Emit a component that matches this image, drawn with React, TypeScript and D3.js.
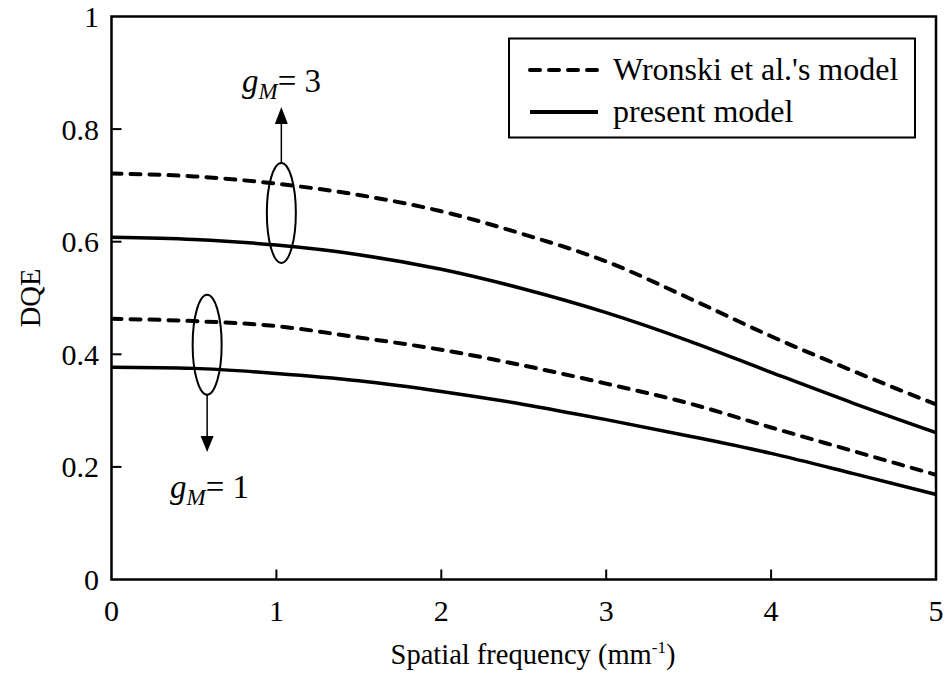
import React from 'react';
import * as d3 from 'd3';

// spatial frequency (mm^-1)
const freq = [0, 0.5, 1, 1.5, 2, 2.5, 3, 3.5, 4, 4.5, 5];

// DQE curves
const wronskiG3 = [0.721, 0.716, 0.703, 0.683, 0.654, 0.613, 0.565, 0.5, 0.432, 0.37, 0.311];
const presentG3 = [0.608, 0.604, 0.594, 0.577, 0.551, 0.516, 0.474, 0.424, 0.368, 0.313, 0.261];
const wronskiG1 = [0.463, 0.459, 0.45, 0.43, 0.408, 0.38, 0.348, 0.313, 0.27, 0.228, 0.186];
const presentG1 = [0.377, 0.375, 0.366, 0.353, 0.334, 0.311, 0.284, 0.255, 0.224, 0.188, 0.151];

const xTicks = [0, 1, 2, 3, 4, 5];
const yTicks = [0, 0.2, 0.4, 0.6, 0.8, 1];
const yTickLabels = ['0', '0.2', '0.4', '0.6', '0.8', '1'];

const legendItems = [
  { label: "Wronski et al.'s model", dashed: true },
  { label: 'present model', dashed: false },
];

const W = 945;
const H = 674;
const FONT = '"Liberation Serif", "Times New Roman", serif';
const DASH = '10,9';

export default function App() {
  const x = d3.scaleLinear().domain([0, 5]).range([111.5, 936]);
  const y = d3.scaleLinear().domain([0, 1]).range([579.5, 16.5]);

  const line = d3
    .line<number>()
    .x((_, i) => x(freq[i]))
    .y(d => y(d))
    .curve(d3.curveMonotoneX);

  const series = [
    { values: wronskiG3, dashed: true },
    { values: presentG3, dashed: false },
    { values: wronskiG1, dashed: true },
    { values: presentG1, dashed: false },
  ];

  // ellipse + arrow annotations (positioned in data space)
  const up = { cx: x(1.03), cy: y(0.651), rx: 14.5, ry: 50 };
  const down = { cx: x(0.58), cy: y(0.417), rx: 14.5, ry: 50 };

  return (
    <svg
      width={W}
      height={H}
      style={{ position: 'absolute', left: 0, top: 0, background: '#fff' }}
      fontFamily={FONT}
    >
      <defs>
        <clipPath id="plot">
          <rect x={x(0)} y={y(1)} width={x(5) - x(0)} height={y(0) - y(1)} />
        </clipPath>
      </defs>

      {/* curves */}
      <g clipPath="url(#plot)">
        {series.map((s, i) => (
          <path
            key={i}
            d={line(s.values) || ''}
            fill="none"
            stroke="#000"
            strokeWidth={s.dashed ? 4 : 3.5}
            strokeDasharray={s.dashed ? DASH : undefined}
            strokeLinecap={s.dashed ? 'round' : 'butt'}
          />
        ))}
      </g>

      {/* ticks (inside) */}
      {yTicks.slice(1, -1).map(t => (
        <line key={'yt' + t} x1={x(0)} x2={x(0) + 10} y1={y(t)} y2={y(t)} stroke="#000" strokeWidth={2} />
      ))}
      {xTicks.slice(1, -1).map(t => (
        <line key={'xt' + t} x1={x(t)} x2={x(t)} y1={y(0)} y2={y(0) - 10} stroke="#000" strokeWidth={2} />
      ))}

      {/* frame */}
      <rect
        x={x(0)}
        y={y(1)}
        width={x(5) - x(0)}
        height={y(0) - y(1)}
        fill="none"
        stroke="#000"
        strokeWidth={2.5}
      />

      {/* tick labels */}
      {yTicks.map((t, i) => (
        <text key={'yl' + t} x={99} y={y(t)} dy="0.35em" textAnchor="end" fontSize={30}>
          {yTickLabels[i]}
        </text>
      ))}
      {xTicks.map(t => (
        <text key={'xl' + t} x={x(t)} y={621} textAnchor="middle" fontSize={30}>
          {t}
        </text>
      ))}

      {/* axis titles */}
      <text x={533} y={664} textAnchor="middle" fontSize={28.5}>
        Spatial frequency (mm
        <tspan fontSize={17} dy={-11}>-1</tspan>
        <tspan dy={11}>)</tspan>
      </text>
      <text transform="translate(40,298) rotate(-90)" textAnchor="middle" fontSize={28.5}>
        DQE
      </text>

      {/* legend */}
      <rect x={509} y={38.5} width={406} height={99} fill="#fff" stroke="#000" strokeWidth={2} />
      {legendItems.map((d, i) => (
        <g key={d.label} transform={`translate(0,${70 + i * 42})`}>
          <line
            x1={530}
            x2={d.dashed ? 602 : 598}
            y1={0}
            y2={0}
            stroke="#000"
            strokeWidth={4}
            strokeDasharray={d.dashed ? DASH : undefined}
            strokeLinecap={d.dashed ? 'round' : 'butt'}
          />
          <text x={613} y={10} fontSize={32}>
            {d.label}
          </text>
        </g>
      ))}

      {/* g_M = 3 annotation */}
      <ellipse cx={up.cx} cy={up.cy} rx={up.rx} ry={up.ry} fill="none" stroke="#000" strokeWidth={2} />
      <line x1={up.cx} x2={up.cx} y1={up.cy - up.ry} y2={123} stroke="#000" strokeWidth={1.5} />
      <path d={`M${up.cx - 6.5},124 L${up.cx + 6.5},124 L${up.cx},107 Z`} fill="#000" />
      <text x={242} y={92} fontSize={33}>
        <tspan fontStyle="italic">g</tspan>
        <tspan fontStyle="italic" fontSize={23} dy={7}>M</tspan>
        <tspan dy={-7}>= 3</tspan>
      </text>

      {/* g_M = 1 annotation */}
      <ellipse cx={down.cx} cy={down.cy} rx={down.rx} ry={down.ry} fill="none" stroke="#000" strokeWidth={2} />
      <line x1={down.cx} x2={down.cx} y1={down.cy + down.ry} y2={437} stroke="#000" strokeWidth={1.5} />
      <path d={`M${down.cx - 6.5},436 L${down.cx + 6.5},436 L${down.cx},452 Z`} fill="#000" />
      <text x={170} y={498} fontSize={33}>
        <tspan fontStyle="italic">g</tspan>
        <tspan fontStyle="italic" fontSize={23} dy={7}>M</tspan>
        <tspan dy={-7}>= 1</tspan>
      </text>
    </svg>
  );
}
